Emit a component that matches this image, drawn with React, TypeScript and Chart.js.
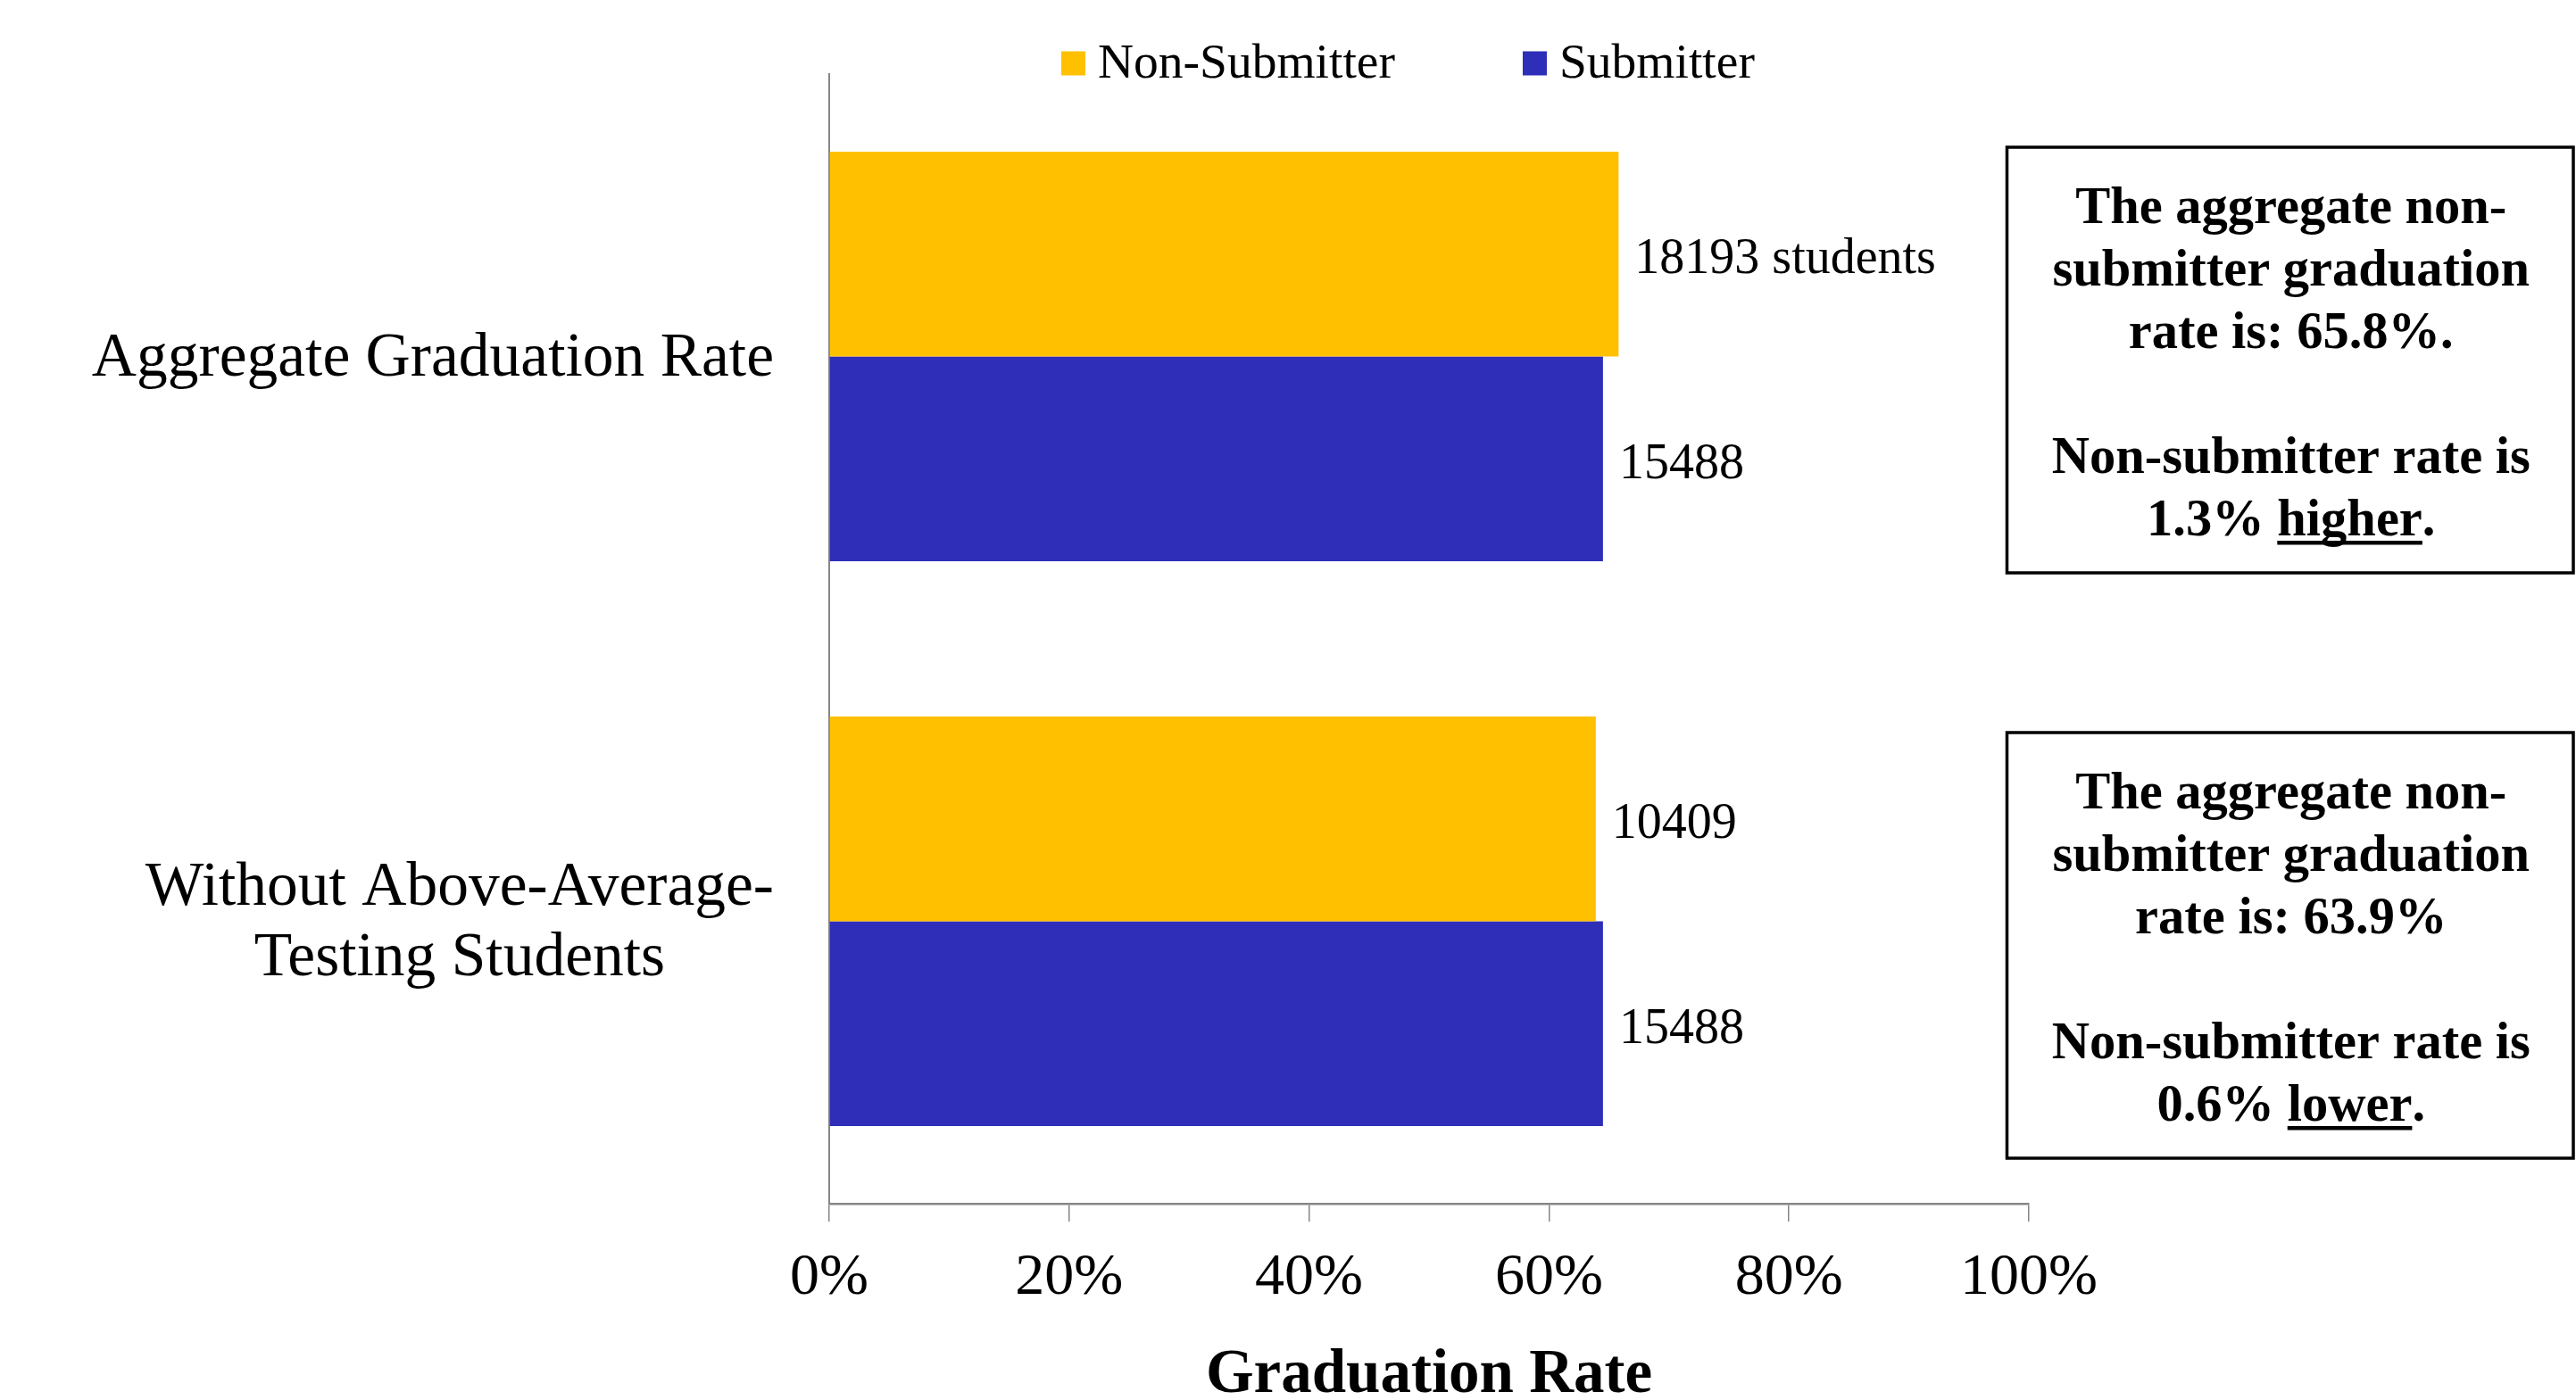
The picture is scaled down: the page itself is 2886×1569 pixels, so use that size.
import React, { useEffect, useRef } from 'react';
import { Chart, registerables } from 'chart.js';

Chart.register(...registerables);

// ---- data ----
const categories: string[][] = [
  ['Aggregate Graduation Rate'],
  ['Without Above-Average-', 'Testing Students'],
];
const seriesNames = ['Non-Submitter', 'Submitter'];
const seriesColors = ['#FFC000', '#2E2EB8'];
const nonSubmitterRates = [65.8, 63.9];
const submitterRates = [64.5, 64.5];
const nonSubmitterCounts = [18193, 10409];
const submitterCounts = [15488, 15488];
const countUnit = 'students';
const xTicks = [0, 20, 40, 60, 80, 100];
const rateLineEnd = ['.', ''];

// ---- styling ----
const SERIF = '"Liberation Serif", "Times New Roman", Times, serif';
const AXIS_GRAY = '#868686';
const W = 2886;
const H = 1569;

const countLabels = [
  nonSubmitterCounts.map((c, i) => (i === 0 ? `${c} ${countUnit}` : `${c}`)),
  submitterCounts.map((c) => `${c}`),
];

// Annotation boxes beside each category
const noteBoxes = nonSubmitterRates.map((rate, i) => {
  const diff = rate - submitterRates[i];
  return {
    top: [165, 821][i],
    lines: [
      'The aggregate non-',
      'submitter graduation',
      `rate is: ${rate.toFixed(1)}%${rateLineEnd[i]}`,
      '',
      'Non-submitter rate is',
    ],
    diffText: `${Math.abs(diff).toFixed(1)}% `,
    direction: diff > 0 ? 'higher' : 'lower',
  };
});

const overlayPlugin = {
  id: 'overlay',
  afterDraw(chart: any) {
    const { ctx, chartArea } = chart;
    const yScale = chart.scales.y;
    ctx.save();

    // category labels: lines centred on each other, block right-aligned
    ctx.font = `69.5px ${SERIF}`;
    ctx.fillStyle = '#000';
    ctx.textBaseline = 'middle';
    ctx.textAlign = 'center';
    const labelRight = chartArea.left - 62;
    const lh = 79;
    categories.forEach((lines, i) => {
      const yc = yScale.getPixelForValue(i);
      const maxW = Math.max(...lines.map((l) => ctx.measureText(l).width));
      const cx = labelRight - maxW / 2;
      lines.forEach((l, j) => {
        ctx.fillText(l, cx, yc + (j - (lines.length - 1) / 2) * lh + 3);
      });
    });

    // bar-end count labels
    ctx.font = `56px ${SERIF}`;
    ctx.textAlign = 'left';
    chart.data.datasets.forEach((_ds: any, di: number) => {
      const meta = chart.getDatasetMeta(di);
      meta.data.forEach((bar: any, bi: number) => {
        ctx.fillText(countLabels[di][bi], bar.x + 18, bar.y + 7);
      });
    });

    // legend
    let lx = 1189;
    const ly = 71;
    const box = 27;
    chart.data.datasets.forEach((ds: any) => {
      ctx.fillStyle = ds.backgroundColor;
      ctx.fillRect(lx, ly - box / 2, box, box);
      ctx.fillStyle = '#000';
      ctx.font = `55.5px ${SERIF}`;
      ctx.textBaseline = 'middle';
      const tx = lx + box + 14;
      ctx.fillText(ds.label, tx, ly + 1);
      lx = tx + ctx.measureText(ds.label).width + 143;
    });

    // annotation boxes
    const bx = 2248.5;
    const bw = 634.5;
    const bh = 477;
    const cx = bx + bw / 2 + 1;
    noteBoxes.forEach((nb) => {
      ctx.lineWidth = 3.5;
      ctx.strokeStyle = '#000';
      ctx.strokeRect(bx, nb.top, bw, bh);
      ctx.font = `bold 58.5px ${SERIF}`;
      ctx.fillStyle = '#000';
      ctx.textBaseline = 'alphabetic';
      ctx.textAlign = 'center';
      const base0 = nb.top + 85;
      const step = 70;
      nb.lines.forEach((l, j) => {
        if (l) ctx.fillText(l, cx, base0 + j * step);
      });
      const by = base0 + 5 * step;
      const w1 = ctx.measureText(nb.diffText).width;
      const w2 = ctx.measureText(nb.direction).width;
      const w3 = ctx.measureText('.').width;
      let sx = cx - (w1 + w2 + w3) / 2;
      ctx.textAlign = 'left';
      ctx.fillText(nb.diffText, sx, by);
      sx += w1;
      ctx.fillText(nb.direction, sx, by);
      ctx.fillRect(sx, by + 6, w2, 4.5);
      sx += w2;
      ctx.fillText('.', sx, by);
    });

    ctx.restore();
  },
};

export default function App() {
  const canvasRef = useRef<HTMLCanvasElement>(null);

  useEffect(() => {
    if (!canvasRef.current) return;
    const chart = new Chart(canvasRef.current, {
      type: 'bar',
      data: {
        labels: categories.map((c) => c.join(' ')),
        datasets: [
          {
            label: seriesNames[0],
            data: nonSubmitterRates,
            backgroundColor: seriesColors[0],
            borderWidth: 0,
          },
          {
            label: seriesNames[1],
            data: submitterRates,
            backgroundColor: seriesColors[1],
            borderWidth: 0,
          },
        ],
      },
      options: {
        animation: false,
        responsive: false,
        indexAxis: 'y',
        layout: { padding: { left: 0, right: W - 2273, top: 83, bottom: 0 } },
        datasets: { bar: { categoryPercentage: 0.725, barPercentage: 1 } },
        plugins: {
          legend: { display: false },
          tooltip: { enabled: false },
        },
        scales: {
          x: {
            type: 'linear',
            min: 0,
            max: 100,
            afterBuildTicks: (s: any) => {
              s.ticks = xTicks.map((v) => ({ value: v }));
            },
            ticks: {
              callback: (v: any) => `${v}%`,
              font: { family: SERIF, size: 66 },
              color: '#000',
              padding: 24,
              maxRotation: 0,
            },
            grid: {
              drawOnChartArea: false,
              drawTicks: true,
              tickLength: 20,
              color: AXIS_GRAY,
              lineWidth: 1.5,
            },
            border: { display: true, color: AXIS_GRAY, width: 2.5 },
            title: {
              display: true,
              text: 'Graduation Rate',
              color: '#000',
              font: { family: SERIF, size: 69, weight: 'bold', lineHeight: 0.78 },
              padding: 0,
            },
            afterFit: (s: any) => {
              s.height = H - 1349;
            },
          },
          y: {
            type: 'category',
            grid: { display: false },
            border: { display: true, color: AXIS_GRAY, width: 2 },
            ticks: { display: false },
            afterFit: (s: any) => {
              s.width = 929;
            },
          },
        },
      } as any,
      plugins: [overlayPlugin],
    });
    return () => chart.destroy();
  }, []);

  return (
    <div style={{ position: 'fixed', left: 0, top: 0, width: W, height: H, background: '#fff' }}>
      <canvas ref={canvasRef} width={W} height={H} style={{ display: 'block' }} />
    </div>
  );
}
